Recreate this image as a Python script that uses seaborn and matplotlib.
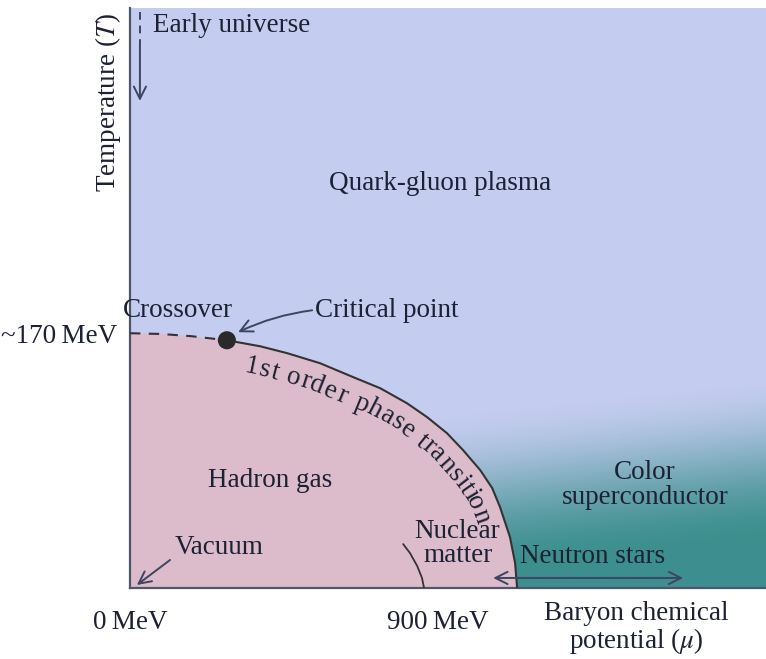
import numpy as np
import matplotlib
matplotlib.use("Agg")
import matplotlib.pyplot as plt
from matplotlib.font_manager import FontProperties
from matplotlib.transforms import IdentityTransform
import seaborn as sns

# Phase boundary (baryon chemical potential and temperature in MeV)
crossover_mu = [0, 90, 180, 283]
crossover_T = [170, 169.5, 168, 165.3]
boundary_mu = [283, 380, 459, 555, 652, 731, 809, 868, 926, 973, 1023, 1058, 1081, 1110, 1125, 1131]
boundary_T = [165.3, 161.3, 156.7, 150, 140.7, 133.3, 123.3, 114, 103.3, 92, 78.7, 66.7, 54, 34, 16.7, 0]
nuclear_mu = [798, 818, 839, 853, 859]
nuclear_T = [29.3, 23.3, 14.7, 6.7, 0]
critical_mu = [283]
critical_T = [165.3]

x_ticks = [0, 900]
x_ticklabels = ["0\u2009MeV", "900\u2009MeV"]
y_ticks = [170]
y_ticklabels = ["~170\u2009MeV"]

MU_MAX, T_MAX = 1858, 387

BLUE = "#c4ccef"
PINK = "#dcbccb"
TEAL = "#3c8f8e"
INK = "#1c2233"
LINE = "#3d4560"

sns.set_theme(style="white")
FONT = "Liberation Serif"
plt.rcParams["font.family"] = [FONT, "DejaVu Serif"]
plt.rcParams["mathtext.fontset"] = "stix"
FS = 19.5

fig = plt.figure(figsize=(7.66, 6.59), dpi=100)
ax = fig.add_axes([130 / 766, 71 / 659, 636 / 766, 580 / 659])
ax.set_facecolor(BLUE)
ax.set_xlim(0, MU_MAX)
ax.set_ylim(0, T_MAX)

# teal colour-superconductor shading, fading into the plasma colour upwards
gx = np.linspace(0, MU_MAX, 400)
gy = np.linspace(0, T_MAX, 300)
GX, GY = np.meshgrid(gx, gy)
centre = 68 + (GX - 1140) / (MU_MAX - 1140) * 18
u = np.clip((centre + 55 - GY) / 110, 0, 1)
alpha = u * u * (3 - 2 * u)
rgba = np.zeros(GX.shape + (4,))
rgba[..., :3] = matplotlib.colors.to_rgb(TEAL)
rgba[..., 3] = alpha
ax.imshow(rgba, extent=[0, MU_MAX, 0, T_MAX], origin="lower", aspect="auto", zorder=0.5,
          interpolation="bilinear")

# hadron gas region
poly_mu = crossover_mu + boundary_mu[1:] + [0]
poly_T = crossover_T + boundary_T[1:] + [0]
ax.fill(poly_mu, poly_T, color=PINK, zorder=1, lw=0)

sns.lineplot(x=crossover_mu, y=crossover_T, ax=ax, color="#333333", lw=1.5, linestyle=(0, (5, 4)),
             sort=False, estimator=None, zorder=3)
sns.lineplot(x=boundary_mu, y=boundary_T, ax=ax, color="#333333", lw=1.5, sort=False,
             estimator=None, zorder=3)
sns.lineplot(x=nuclear_mu, y=nuclear_T, ax=ax, color="#333333", lw=1.3, sort=False,
             estimator=None, zorder=3)
sns.scatterplot(x=critical_mu, y=critical_T, ax=ax, s=170, color="#2a2a2a", edgecolor="none", zorder=4)

# axes
sns.despine(ax=ax, top=True, right=True)
for side in ["left", "bottom"]:
    ax.spines[side].set_color("#50566a")
    ax.spines[side].set_linewidth(1.6)
ax.set_xticks(x_ticks)
ax.set_xticklabels(x_ticklabels)
ax.set_yticks(y_ticks)
ax.set_yticklabels(y_ticklabels)
ax.tick_params(axis="x", length=0, pad=16, labelsize=FS, labelcolor=INK)
ax.tick_params(axis="y", length=0, pad=9, labelsize=FS, labelcolor=INK)
ax.set_xlabel("")
ax.set_ylabel("")

txt = dict(fontsize=FS, color=INK)
ax.text(-64, 324, "Temperature ($\\mathit{T}$)", rotation=90, ha="center", va="center", clip_on=False, **txt)
ax.text(1479, -27, "Baryon chemical\npotential ($\\mu$)", ha="center", va="center", clip_on=False,
        linespacing=1.0, **txt)
ax.text(67, 375, "Early universe", ha="left", va="center", **txt)
ax.text(906, 270, "Quark-gluon plasma", ha="center", va="center", **txt)
ax.text(140, 185.3, "Crossover", ha="center", va="center", **txt)
ax.text(541, 185.3, "Critical point", ha="left", va="center", **txt)
ax.text(409, 72, "Hadron gas", ha="center", va="center", **txt)
ax.text(131, 26.7, "Vacuum", ha="left", va="center", **txt)
ax.text(957, 29.5, "Nuclear\nmatter", ha="center", va="center", linespacing=0.95, **txt)
ax.text(1350, 20.7, "Neutron stars", ha="center", va="center", **txt)
ax.text(1505, 69, "Color\nsuperconductor", ha="center", va="center", linespacing=1.0, **txt)

arrow = dict(arrowstyle="->", color=LINE, lw=1.4, mutation_scale=22, shrinkA=0, shrinkB=0)
ax.plot([29, 29], [384, 363], color=LINE, lw=1.4, linestyle=(0, (4, 3)), zorder=3)
ax.annotate("", xy=(29, 325), xytext=(29, 363), arrowprops=arrow)
ax.annotate("", xy=(316, 170.7), xytext=(532, 185.3),
            arrowprops=dict(arrow, connectionstyle="arc3,rad=0.08"))
ax.annotate("", xy=(20, 2), xytext=(117, 18.7), arrowprops=arrow)
ax.annotate("", xy=(1616, 6.7), xytext=(1061, 6.7), arrowprops=dict(arrow, arrowstyle="<->"))


def curved_label(text, mu_start, mu_end, offset):
    renderer = fig.canvas.get_renderer()
    pts = ax.transData.transform(np.column_stack([boundary_mu, boundary_T]))
    seg = np.hypot(*np.diff(pts, axis=0).T)
    s = np.concatenate([[0], np.cumsum(seg)])
    s0 = np.interp(mu_start, boundary_mu, s)
    s1 = np.interp(mu_end, boundary_mu, s)
    fp = FontProperties(family=FONT, size=FS)
    full = renderer.get_text_width_height_descent(text, fp, ismath=False)[0]
    scale = (s1 - s0) / full
    for i, ch in enumerate(text):
        if ch == " ":
            continue
        right = renderer.get_text_width_height_descent(text[:i + 1], fp, ismath=False)[0]
        cw = renderer.get_text_width_height_descent(ch, fp, ismath=False)[0]
        mid = s0 + scale * (right - cw / 2)
        x = np.interp(mid, s, pts[:, 0])
        y = np.interp(mid, s, pts[:, 1])
        xa, ya = np.interp(mid - 10, s, pts[:, 0]), np.interp(mid - 10, s, pts[:, 1])
        xb, yb = np.interp(mid + 10, s, pts[:, 0]), np.interp(mid + 10, s, pts[:, 1])
        tx, ty = xb - xa, yb - ya
        n = np.hypot(tx, ty)
        tx, ty = tx / n, ty / n
        nx, ny = ty, -tx
        ang = np.degrees(np.arctan2(ty, tx))
        fig.text(x + offset * nx, y + offset * ny, ch, transform=IdentityTransform(), rotation=ang,
                 rotation_mode="anchor", ha="center", va="baseline", fontsize=FS, color=INK,
                 family=FONT, zorder=5)


curved_label("1st order phase transition", 345, 1090, 28)

fig.savefig("out.png", dpi=100)
